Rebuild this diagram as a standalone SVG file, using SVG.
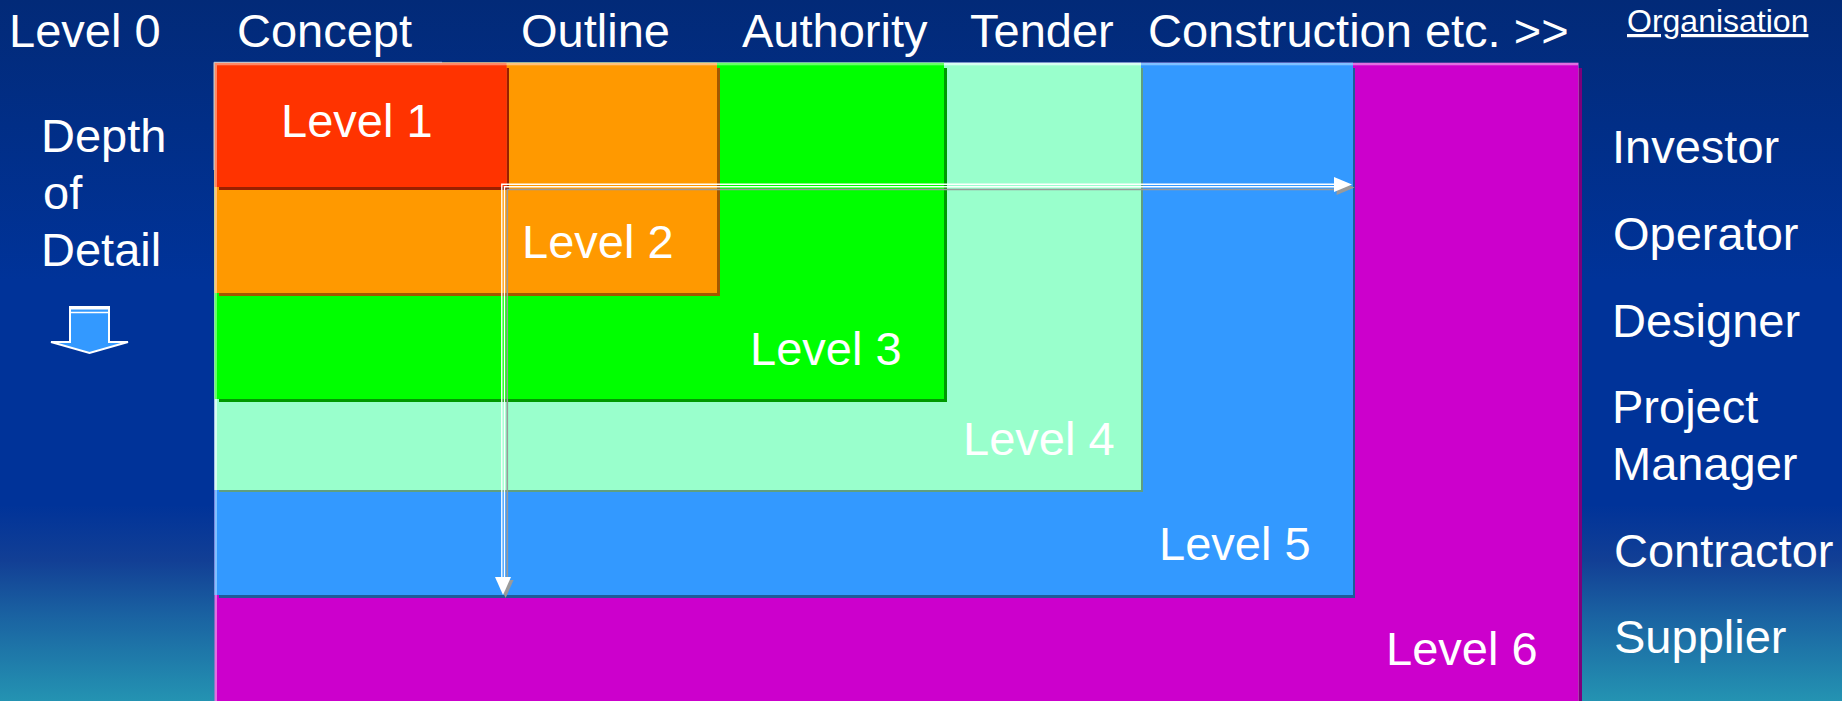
<svg xmlns="http://www.w3.org/2000/svg" width="1842" height="701" viewBox="0 0 1842 701">
  <style>
    .t { font-family: "Liberation Sans", Arial, sans-serif; font-size: 47px; fill: #ffffff; }
    .small { font-size: 32px; text-decoration: underline; }
    .line { fill: none; stroke: #ffffff; stroke-width: 1.4; }
    .shade { fill: none; stroke: #9a9a9a; stroke-width: 1.6; }
    .head { fill: #ffffff; }
    .headshade { fill: #9a9a9a; }
  </style>
  <defs>
    <linearGradient id="bg" x1="0" y1="0" x2="0" y2="1">
      <stop offset="0" stop-color="#022a78"/>
      <stop offset="0.4" stop-color="#003399"/>
      <stop offset="0.72" stop-color="#003399"/>
      <stop offset="0.8" stop-color="#123f95"/>
      <stop offset="0.88" stop-color="#1a63a2"/>
      <stop offset="1" stop-color="#2493b2"/>
    </linearGradient>
  </defs>

  <!-- backdrop -->
  <rect x="0" y="0" width="1842" height="701" fill="url(#bg)"/>

  <!-- nested detail levels, outermost first -->
  <g id="level6">
    <rect x="219" y="68" width="1363" height="640" fill="#7c007c"/>
    <rect x="214.5" y="62.7" width="1364" height="640" fill="#e070e0"/>
    <rect x="217" y="65.3" width="1361" height="640" fill="#cc00cc"/>
    <text class="t" x="1386" y="665">Level 6</text>
  </g>
  <g id="level5">
    <rect x="219" y="68" width="1136" height="530" fill="#1f5a99"/>
    <rect x="214.5" y="62.7" width="1138.5" height="532.3" fill="#80c0ff"/>
    <rect x="217" y="65.3" width="1136" height="529.7" fill="#3399ff"/>
    <text class="t" x="1159" y="560">Level 5</text>
  </g>
  <g id="level4">
    <rect x="219" y="68" width="924" height="424" fill="#5f9f80"/>
    <rect x="214.5" y="62.7" width="926.5" height="427.3" fill="#d6fff0"/>
    <rect x="217" y="65.3" width="924" height="424.7" fill="#99ffcc"/>
    <text class="t" x="963" y="455">Level 4</text>
  </g>
  <g id="level3">
    <rect x="219" y="68" width="728" height="334" fill="#009900"/>
    <rect x="214.5" y="62.7" width="729.5" height="336.3" fill="#66ff66"/>
    <rect x="217" y="65.3" width="727" height="333.7" fill="#00ff00"/>
    <text class="t" x="750" y="365">Level 3</text>
  </g>
  <g id="level2">
    <rect x="219" y="68" width="501" height="228" fill="#a35800"/>
    <rect x="214.5" y="62.7" width="502.5" height="230.3" fill="#ffc27a"/>
    <rect x="217" y="65.3" width="500" height="227.7" fill="#ff9900"/>
    <text class="t" x="522" y="258">Level 2</text>
  </g>
  <g id="level1">
    <rect x="219" y="68" width="290" height="122" fill="#992000"/>
    <rect x="214.5" y="62.7" width="292" height="124.3" fill="#ff8866"/>
    <rect x="217" y="65.3" width="289.7" height="121.7" fill="#ff3300"/>
    <path d="M214 170 V62.3 H442" fill="none" stroke="#c9c9d6" stroke-width="1"/>
    <text class="t" x="281" y="137">Level 1</text>
  </g>

  <!-- phase headings -->
  <g id="phases">
    <text class="t" x="9" y="47">Level 0</text>
    <text class="t" x="237" y="47">Concept</text>
    <text class="t" x="521" y="47">Outline</text>
    <text class="t" x="742" y="47">Authority</text>
    <text class="t" x="970" y="47">Tender</text>
    <text class="t" x="1148" y="47">Construction etc. &gt;&gt;</text>
  </g>

  <!-- depth axis label with down arrow -->
  <g id="depth">
    <text class="t" x="41" y="152">Depth</text>
    <text class="t" x="43" y="209">of</text>
    <text class="t" x="41" y="266">Detail</text>
    <polygon points="70,307 109,307 109,342 128,342 89.5,353 51,342 70,342" fill="#3399ff" stroke="#ffffff" stroke-width="2"/>
    <rect x="70" y="306.5" width="39" height="3" fill="#ffffff"/>
    <line x1="70" y1="312.5" x2="109" y2="312.5" stroke="#ffffff" stroke-width="1.5"/>
  </g>

  <!-- organisation column -->
  <g id="organisation">
    <text class="t small" x="1627" y="32">Organisation</text>
    <text class="t" x="1612" y="163">Investor</text>
    <text class="t" x="1613" y="250">Operator</text>
    <text class="t" x="1612" y="337">Designer</text>
    <text class="t" x="1612" y="423">Project</text>
    <text class="t" x="1612" y="480">Manager</text>
    <text class="t" x="1614" y="567">Contractor</text>
    <text class="t" x="1614" y="653">Supplier</text>
  </g>

  <!-- double-line elbow arrows: down the levels, across the phases -->
  <g id="connectors">
    <path class="shade" d="M507.3 580 V189.5 H1337"/>
    <polygon class="headshade" points="497.6,580 513.6,580 505.6,598"/>
    <polygon class="headshade" points="1336.6,180 1354.6,187.5 1336.6,195"/>
    <path class="line" d="M501.8 577 V184.2 H1335"/>
    <path class="line" d="M504.5 577 V186.8 H1335"/>
    <polygon class="head" points="495,577 511,577 503,595"/>
    <polygon class="head" points="1334,177 1352,184.5 1334,192"/>
  </g>
</svg>
